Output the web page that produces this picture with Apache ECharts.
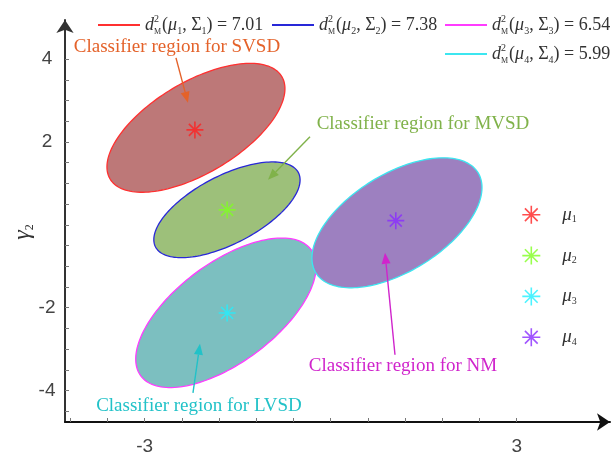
<!DOCTYPE html>
<html>
<head>
<meta charset="utf-8">
<script src="https://cdn.jsdelivr.net/npm/echarts@6/dist/echarts.min.js"></script>
<style>
  html, body { margin: 0; padding: 0; background: #fff; }
  #chart { width: 611px; height: 458px; }
</style>
</head>
<body>
<div id="chart"></div>
<script>
// Class means (stars)
const meanPoints = [[-2.19, 2.29], [-1.67, 0.36], [-1.67, -2.13], [1.05, 0.10]];
// Decision ellipses: centre, semi-major vector, semi-minor vector (data units)
const ellipseCenters = [[-2.173, 2.341], [-1.673, 0.362], [-1.689, -2.124], [1.069, 0.048]];
const ellipseMajor = [[1.385, 1.236], [1.152, 0.897], [1.374, 1.522], [1.308, 1.209]];
const ellipseMinor = [[-0.377, 0.945], [-0.253, 0.728], [-0.480, 0.970], [-0.413, 1.000]];
// Squared Mahalanobis radius of each region
const distances = ['7.01', '7.38', '6.54', '5.99'];

// Axis ticks and labels
const xTicks = [-4.2, -3.6, -3.0, -2.4, -1.8, -1.2, -0.6, 0, 0.6, 1.2, 1.8, 2.4, 3.0];
const xTickLabels = [-3, 3];
const yTicks = [-4.5, -4, -3.5, -3, -2.5, -2, -1.5, -1, -0.5, 0, 0.5, 1, 1.5, 2, 2.5, 3, 3.5, 4];
const yTickLabels = [-4, -2, 2, 4];

// Region annotations: text anchor, arrow start, arrow end
const annotationText = ['Classifier region for SVSD', 'Classifier region for MVSD', 'Classifier region for NM', 'Classifier region for LVSD'];
const annotationAnchor = [[-2.479, 4.296], [1.489, 2.438], [1.166, -3.403], [-2.124, -4.369]];
const arrowFrom = [[-2.495, 4.03], [-0.334, 2.124], [1.037, -3.138], [-2.221, -4.055]];
const arrowTo = [[-2.302, 2.945], [-1.011, 1.086], [0.876, -0.676], [-2.108, -2.872]];

const ellipseFill = ['#bd7878', '#9dc07a', '#7cbfc0', '#9d80c0'];
const ellipseStroke = ['#ff3030', '#2828d8', '#ff3cff', '#3ce6f0'];
const starColors = ['#ff2020', '#80ff20', '#20f0ff', '#8a2cff'];
const annotationColors = ['#e4622a', '#80b24a', '#d024cc', '#22c2c8'];

const SERIF = '"Liberation Serif", "Times New Roman", serif';
const STAR = 'path://M10 0V20M0 10H20M2.93 2.93L17.07 17.07M2.93 17.07L17.07 2.93';

const chart = echarts.init(document.getElementById('chart'), null, { renderer: 'canvas' });

function ellipseRenderer(idx) {
  return function (params, api) {
    const cx = api.value(0), cy = api.value(1);
    const ux = api.value(2), uy = api.value(3);
    const vx = api.value(4), vy = api.value(5);
    const pts = [];
    for (let k = 0; k < 160; k++) {
      const t = 2 * Math.PI * k / 160;
      pts.push(api.coord([cx + ux * Math.cos(t) + vx * Math.sin(t), cy + uy * Math.cos(t) + vy * Math.sin(t)]));
    }
    return {
      type: 'polygon',
      shape: { points: pts },
      style: { fill: ellipseFill[idx], stroke: ellipseStroke[idx], lineWidth: 1.3 }
    };
  };
}

function annotationRenderer(params, api) {
  const i = params.dataIndex;
  const t = api.coord([api.value(0), api.value(1)]);
  const a = api.coord([api.value(2), api.value(3)]);
  const b = api.coord([api.value(4), api.value(5)]);
  const dx = b[0] - a[0], dy = b[1] - a[1];
  const len = Math.sqrt(dx * dx + dy * dy);
  const ux = dx / len, uy = dy / len;
  const headL = 11, headW = 4.5;
  const base = [b[0] - ux * headL, b[1] - uy * headL];
  const c = annotationColors[i];
  return {
    type: 'group',
    children: [
      {
        type: 'text',
        style: {
          text: annotationText[i], x: t[0], y: t[1], fill: c,
          font: '19px ' + SERIF, align: 'center', verticalAlign: 'middle'
        }
      },
      {
        type: 'line',
        shape: { x1: a[0], y1: a[1], x2: base[0], y2: base[1] },
        style: { stroke: c, lineWidth: 1.4 }
      },
      {
        type: 'polygon',
        shape: {
          points: [
            [b[0], b[1]],
            [base[0] - uy * headW, base[1] + ux * headW],
            [base[0] + uy * headW, base[1] - ux * headW]
          ]
        },
        style: { fill: c }
      }
    ]
  };
}

const series = [];
for (let i = 0; i < 4; i++) {
  series.push({
    name: 'E' + (i + 1),
    type: 'custom',
    renderItem: ellipseRenderer(i),
    encode: { x: 0, y: 1 },
    silent: true,
    z: 2,
    data: [[ellipseCenters[i][0], ellipseCenters[i][1], ellipseMajor[i][0], ellipseMajor[i][1], ellipseMinor[i][0], ellipseMinor[i][1]]]
  });
}
for (let i = 0; i < 4; i++) {
  series.push({
    name: 'M' + (i + 1),
    type: 'scatter',
    symbol: STAR,
    symbolSize: 17,
    silent: true,
    z: 5,
    itemStyle: { color: starColors[i], borderColor: starColors[i], borderWidth: 1.6 },
    data: [meanPoints[i]]
  });
}
series.push({
  name: 'annotations',
  type: 'custom',
  renderItem: annotationRenderer,
  encode: { x: 0, y: 1 },
  silent: true,
  z: 6,
  data: annotationAnchor.map((p, i) => [p[0], p[1], arrowFrom[i][0], arrowFrom[i][1], arrowTo[i][0], arrowTo[i][1]])
});

const legendRich = {
  d: { fontFamily: SERIF, fontStyle: 'italic', fontSize: 18, color: '#333', lineHeight: 22 },
  sup: { fontFamily: SERIF, fontSize: 10, color: '#333', lineHeight: 12, verticalAlign: 'top', width: 0 },
  sub: { fontFamily: SERIF, fontSize: 8, color: '#333', lineHeight: 8, verticalAlign: 'bottom', padding: [0, 1, 0, 0] },
  t: { fontFamily: SERIF, fontSize: 18, color: '#333', lineHeight: 22 },
  m: { fontFamily: SERIF, fontStyle: 'italic', fontSize: 18, color: '#333', lineHeight: 22 },
  s: { fontFamily: SERIF, fontSize: 10, color: '#333', lineHeight: 10, verticalAlign: 'bottom' }
};

function ellipseLegend(i, left, top) {
  return {
    left: left, top: top,
    orient: 'horizontal',
    itemWidth: 42, itemHeight: 2, itemGap: 0,
    selectedMode: false,
    data: [{ name: 'E' + (i + 1), icon: 'rect', itemStyle: { color: ellipseStroke[i], borderWidth: 0 } }],
    formatter: function () {
      const n = i + 1;
      return '{d|d}{sup|2}{sub|M}{t|(}{m|μ}{s|' + n + '}{t|, Σ}{s|' + n + '}{t|) = ' + distances[i] + '}';
    },
    textStyle: { rich: legendRich }
  };
}

const option = {
  backgroundColor: '#ffffff',
  animation: false,
  grid: { left: 65, right: 1, top: 20, bottom: 36, containLabel: false, outerBoundsMode: 'none' },
  legend: [
    ellipseLegend(0, 93, 9),
    ellipseLegend(1, 267, 9),
    ellipseLegend(2, 440, 9),
    ellipseLegend(3, 440, 38),
    {
      left: 516.5, top: 200,
      orient: 'vertical',
      itemWidth: 18, itemHeight: 18, itemGap: 21,
      selectedMode: false,
      data: [0, 1, 2, 3].map(i => ({
        name: 'M' + (i + 1), icon: STAR,
        itemStyle: { color: starColors[i], borderColor: starColors[i], borderWidth: 1.6 }
      })),
      formatter: function (name) {
        return '{sp|}{m|μ}{s|' + name.slice(1) + '}';
      },
      textStyle: {
        rich: {
          sp: { width: 17 },
          m: { fontFamily: SERIF, fontStyle: 'italic', fontSize: 19, color: '#333', lineHeight: 20 },
          s: { fontFamily: SERIF, fontSize: 10, color: '#333', lineHeight: 9, verticalAlign: 'bottom' }
        }
      }
    }
  ],
  xAxis: {
    type: 'value',
    min: -4.285, max: 4.505,
    name: '{g|γ}{s|1}',
    nameLocation: 'middle',
    nameGap: 28,
    nameTextStyle: {
      rich: {
        g: { fontFamily: SERIF, fontStyle: 'italic', fontSize: 24, color: '#333', lineHeight: 26 },
        s: { fontFamily: SERIF, fontSize: 12, color: '#333', lineHeight: 12, verticalAlign: 'bottom' }
      }
    },
    axisLine: {
      show: true, onZero: false,
      symbol: ['none', 'arrow'], symbolSize: [13, 13],
      lineStyle: { color: '#111', width: 2 }
    },
    axisTick: { show: true, inside: true, length: 4, customValues: xTicks, lineStyle: { color: '#777', width: 1 } },
    axisLabel: {
      customValues: xTickLabels, margin: 15,
      fontFamily: '"Liberation Sans", Arial, sans-serif', fontSize: 19, color: '#444'
    },
    splitLine: { show: false }
  },
  yAxis: {
    type: 'value',
    min: -4.76, max: 4.943,
    axisLine: {
      show: true, onZero: false,
      symbol: ['none', 'arrow'], symbolSize: [13, 13],
      lineStyle: { color: '#333', width: 2 }
    },
    axisTick: { show: true, inside: true, length: 4, customValues: yTicks, lineStyle: { color: '#777', width: 1 } },
    axisLabel: {
      customValues: yTickLabels, margin: 18, align: 'center',
      fontFamily: '"Liberation Sans", Arial, sans-serif', fontSize: 19, color: '#444'
    },
    splitLine: { show: false }
  },
  graphic: [
    {
      type: 'text',
      x: 23, y: 232,
      rotation: Math.PI / 2,
      style: {
        text: '{g|γ}{s|2}',
        align: 'center', verticalAlign: 'middle',
        rich: {
          g: { fontFamily: SERIF, fontStyle: 'italic', fontSize: 24, fill: '#333', lineHeight: 26 },
          s: { fontFamily: SERIF, fontSize: 12, fill: '#333', lineHeight: 12, verticalAlign: 'bottom' }
        }
      }
    }
  ],
  series: series
};

chart.setOption(option);
</script>
</body>
</html>
